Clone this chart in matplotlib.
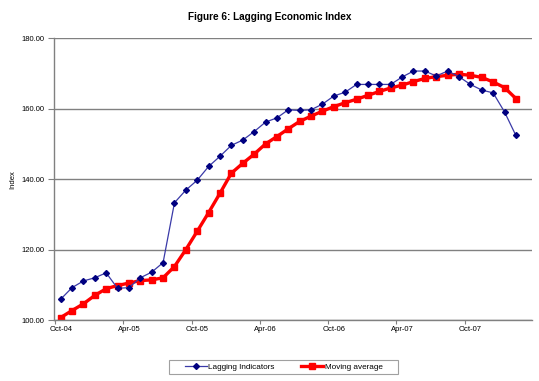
import matplotlib
matplotlib.use("Agg")
import matplotlib.pyplot as plt
from matplotlib.patches import Rectangle
import numpy as np

plt.rcParams['font.family'] = ['Liberation Sans', 'DejaVu Sans']

months = ["Oct-04", "Nov-04", "Dec-04", "Jan-05", "Feb-05", "Mar-05", "Apr-05", "May-05", "Jun-05",
          "Jul-05", "Aug-05", "Sep-05", "Oct-05", "Nov-05", "Dec-05", "Jan-06", "Feb-06", "Mar-06",
          "Apr-06", "May-06", "Jun-06", "Jul-06", "Aug-06", "Sep-06", "Oct-06", "Nov-06", "Dec-06",
          "Jan-07", "Feb-07", "Mar-07", "Apr-07", "May-07", "Jun-07", "Jul-07", "Aug-07", "Sep-07",
          "Oct-07", "Nov-07", "Dec-07", "Jan-08", "Feb-08"]

lagging = [105.9, 109.2, 111.1, 112.0, 113.4, 109.0, 109.2, 112.0, 113.6, 116.3,
           133.3, 136.9, 139.7, 143.6, 146.5, 149.6, 151.1, 153.5, 156.2, 157.4,
           159.7, 159.5, 159.7, 161.3, 163.6, 164.7, 166.9, 166.9, 166.9, 166.9,
           169.0, 170.7, 170.7, 169.3, 170.7, 169.1, 166.9, 165.3, 164.5, 159.1, 152.4]

moving_avg = [100.7, 102.7, 104.6, 107.0, 108.9, 109.8, 110.5, 111.2, 111.4, 112.0,
              115.2, 120.0, 125.2, 130.5, 136.0, 141.7, 144.5, 147.1, 150.0, 152.1,
              154.3, 156.4, 157.9, 159.3, 160.6, 161.7, 162.7, 163.8, 164.9, 165.9,
              166.7, 167.7, 168.6, 169.1, 169.5, 169.8, 169.5, 168.9, 167.6, 166.0, 162.9]

tick_labels = ["Oct-04", "Apr-05", "Oct-05", "Apr-06", "Oct-06", "Apr-07", "Oct-07"]
y_ticks = [100, 120, 140, 160, 180]

fig = plt.figure(figsize=(5.39, 3.81), dpi=100)
ax = fig.add_axes([0.1007, 0.160, 0.886, 0.7395])

x = np.arange(len(months))
ax.plot(x, lagging, color='#3a3aa8', lw=0.9, marker='D', ms=3.0,
        mfc='#000080', mec='#000080', label='Lagging Indicators', zorder=3)
ax.plot(x, moving_avg, color='#ff0000', lw=2.4, marker='s', ms=4.6,
        mfc='#ff0000', mec='#ff0000', label='Moving average', zorder=2)

ax.set_ylim(100, 180)
ax.set_xlim(-0.56, 41.4)
ax.set_yticks(y_ticks)
ax.set_yticklabels([f"{v:.2f}" for v in y_ticks], fontsize=5.5)
ax.yaxis.grid(True, color='#808080', lw=1.0)
ax.set_axisbelow(True)

label_pos = [months.index(m) for m in tick_labels]
ax.set_xticks([p - 0.5 for p in label_pos])
ax.set_xticklabels([''] * len(label_pos))
ax.set_xticks(label_pos, minor=True)
ax.set_xticklabels(tick_labels, minor=True, fontsize=5.5)
ax.tick_params(axis='x', which='minor', length=0, pad=4)
ax.tick_params(axis='x', which='major', length=3, color='#808080')
ax.tick_params(axis='y', length=4, color='#808080', pad=3)

for s in ['top', 'right']:
    ax.spines[s].set_visible(False)
for s in ['left', 'bottom']:
    ax.spines[s].set_color('#808080')
    ax.spines[s].set_linewidth(1.0)

ax.set_ylabel('Index', fontsize=5.5, labelpad=4)

fig.text(0.5, 0.955, 'Figure 6: Lagging Economic Index', ha='center', va='center',
         fontsize=7.2, fontweight='bold')

leg = fig.legend(loc='center', bbox_to_anchor=(0.526, 0.0367), ncol=2, fontsize=5.9,
                 frameon=False, handlelength=2.7,
                 columnspacing=3.2, borderpad=0.3, handletextpad=0.2, borderaxespad=0)
fig.patches.append(Rectangle((169 / 539, 7 / 381), 229 / 539, 14 / 381,
                             transform=fig.transFigure, fill=False,
                             edgecolor='#a0a0a0', lw=0.8))

fig.savefig('out.png', dpi=100)
